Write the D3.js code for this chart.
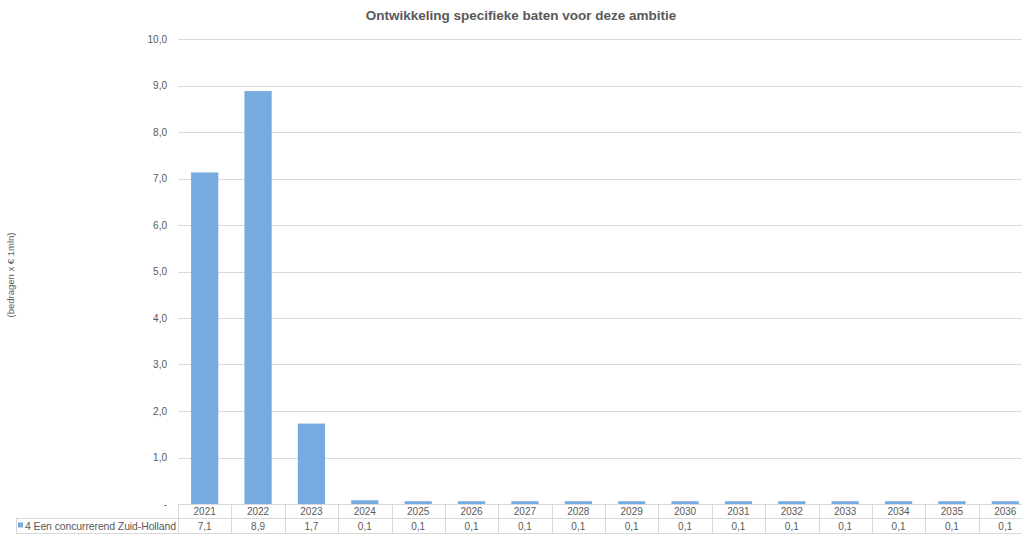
<!DOCTYPE html>
<html>
<head>
<meta charset="utf-8">
<script src="https://cdn.jsdelivr.net/npm/d3@7/dist/d3.min.js"></script>
<style>
  html, body { margin: 0; padding: 0; background: #fff; }
  svg { display: block; font-family: "Liberation Sans", Arial, sans-serif; }
</style>
</head>
<body>
<svg id="chart" width="1022" height="536"></svg>
<script>
// Jaren en bedragen (x € 1 mln)
const years = ["2021","2022","2023","2024","2025","2026","2027","2028","2029","2030","2031","2032","2033","2034","2035","2036"];
const values = [7.13, 8.88, 1.73, 0.08, 0.06, 0.06, 0.06, 0.06, 0.06, 0.06, 0.06, 0.06, 0.06, 0.06, 0.06, 0.06];
const yTicks = [0, 1, 2, 3, 4, 5, 6, 7, 8, 9, 10];
const seriesName = "4 Een concurrerend Zuid-Holland";
const chartTitle = "Ontwikkeling specifieke baten voor deze ambitie";
const yTitle = "(bedragen x € 1mln)";

const svg = d3.select("#chart");
const textColor = "#595959";
const barColor = "#77aadf";
const gridColor = "#d9d9d9";

const plotLeft = 178, plotRight = 1032, plotTop = 39, plotBottom = 504;

const y = d3.scaleLinear().domain([0, 10]).range([plotBottom, plotTop]);
const xCell = d3.scaleBand().domain(years).range([plotLeft, plotRight]).padding(0);
const xBar = d3.scaleBand().domain(years).range([plotLeft, plotRight])
  .paddingInner(0.49).paddingOuter(0.245);

const fmt = v => v === 0 ? "-" : d3.format(".1f")(v).replace(".", ",");

// Rasterlijnen
svg.append("g")
  .selectAll("line")
  .data(yTicks.filter(d => d > 0))
  .join("line")
  .attr("x1", plotLeft).attr("x2", 1022)
  .attr("y1", d => Math.round(y(d)) + 0.5).attr("y2", d => Math.round(y(d)) + 0.5)
  .attr("stroke", gridColor).attr("stroke-width", 1);

// Y-as labels
const yAxis = d3.axisLeft(y).tickValues(yTicks).tickFormat(fmt).tickSize(0).tickPadding(11);
const gy = svg.append("g").attr("transform", `translate(${plotLeft},0)`).call(yAxis);
gy.select(".domain").remove();
gy.selectAll("text").attr("fill", textColor).attr("font-size", 10)
  .attr("font-family", "'Liberation Sans', Arial, sans-serif");

// Staven
svg.append("g")
  .selectAll("rect")
  .data(years.map((yr, i) => ({ yr, v: values[i] })))
  .join("rect")
  .attr("x", d => xBar(d.yr))
  .attr("width", xBar.bandwidth())
  .attr("y", d => y(d.v))
  .attr("height", d => y(0) - y(d.v))
  .attr("fill", barColor);

// Datatabel onder de grafiek
const rowTop = 504, rowMid = 518.5, rowBot = 533;
const table = svg.append("g");
const tableStroke = "#d9d9d9";

table.append("line").attr("x1", plotLeft).attr("x2", 1022)
  .attr("y1", rowTop + 0.5).attr("y2", rowTop + 0.5).attr("stroke", tableStroke);
table.append("line").attr("x1", 16).attr("x2", 1022)
  .attr("y1", rowMid).attr("y2", rowMid).attr("stroke", tableStroke);
table.append("line").attr("x1", 16).attr("x2", 1022)
  .attr("y1", rowBot + 0.5).attr("y2", rowBot + 0.5).attr("stroke", tableStroke);
table.append("line").attr("x1", 16.5).attr("x2", 16.5)
  .attr("y1", rowMid).attr("y2", rowBot + 0.5).attr("stroke", tableStroke);

table.selectAll("line.div")
  .data(years)
  .join("line")
  .attr("class", "div")
  .attr("x1", d => Math.round(xCell(d)) + 0.5).attr("x2", d => Math.round(xCell(d)) + 0.5)
  .attr("y1", rowTop).attr("y2", rowBot + 0.5)
  .attr("stroke", tableStroke);

table.selectAll("text.yr")
  .data(years)
  .join("text")
  .attr("class", "yr")
  .attr("x", d => xCell(d) + xCell.bandwidth() / 2)
  .attr("y", rowTop + 11)
  .attr("text-anchor", "middle")
  .attr("font-size", 10)
  .attr("fill", textColor)
  .text(d => d);

table.selectAll("text.val")
  .data(values)
  .join("text")
  .attr("class", "val")
  .attr("x", (d, i) => xCell(years[i]) + xCell.bandwidth() / 2)
  .attr("y", rowMid + 11)
  .attr("text-anchor", "middle")
  .attr("font-size", 10)
  .attr("fill", textColor)
  .text(d => fmt(d));

// Legenda-sleutel in de tabel
table.append("rect").attr("x", 18).attr("y", rowMid + 4).attr("width", 5).attr("height", 5)
  .attr("fill", barColor);
table.append("text").attr("x", 25).attr("y", rowMid + 11)
  .attr("font-size", 10.5).attr("fill", textColor).attr("letter-spacing", -0.12)
  .text(seriesName);

// Titel
svg.append("text")
  .attr("x", 521).attr("y", 20)
  .attr("text-anchor", "middle")
  .attr("font-size", 13.5).attr("font-weight", "bold")
  .attr("fill", textColor)
  .text(chartTitle);

// Y-as titel
svg.append("text")
  .attr("transform", "translate(14,275) rotate(-90)")
  .attr("text-anchor", "middle")
  .attr("font-size", 9.5)
  .attr("fill", textColor)
  .text(yTitle);
</script>
</body>
</html>
